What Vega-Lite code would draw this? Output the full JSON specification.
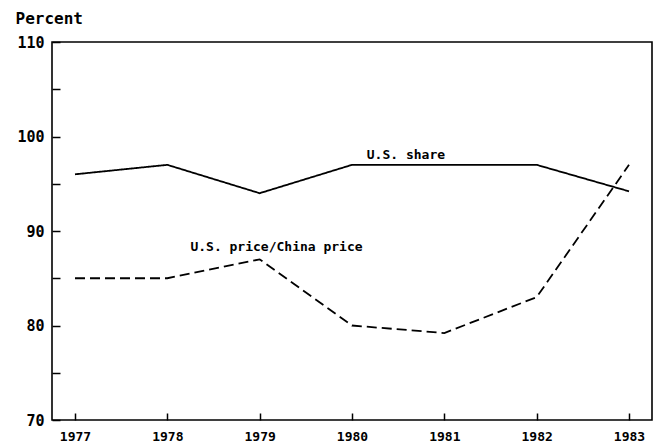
{
  "$schema": "https://vega.github.io/schema/vega-lite/v6.json",
  "autosize": "none",
  "width": 600,
  "height": 378,
  "padding": {"left": 52, "top": 42, "right": 4, "bottom": 26},
  "background": "white",
  "config": {
    "view": {"stroke": "black", "strokeWidth": 1.6},
    "font": "DejaVu Sans Mono",
    "axis": {"grid": false, "domain": false, "labelFont": "DejaVu Sans Mono", "labelFontWeight": "bold", "labelColor": "black", "tickColor": "black", "tickWidth": 1.5}
  },
  "datasets": {
    "series": [
      {"year": 1977, "value": 96, "series": "U.S. share"},
      {"year": 1978, "value": 97, "series": "U.S. share"},
      {"year": 1979, "value": 94, "series": "U.S. share"},
      {"year": 1980, "value": 97, "series": "U.S. share"},
      {"year": 1981, "value": 97, "series": "U.S. share"},
      {"year": 1982, "value": 97, "series": "U.S. share"},
      {"year": 1983, "value": 94.2, "series": "U.S. share"},
      {"year": 1977, "value": 85, "series": "U.S. price/China price"},
      {"year": 1978, "value": 85, "series": "U.S. price/China price"},
      {"year": 1979, "value": 87, "series": "U.S. price/China price"},
      {"year": 1980, "value": 80, "series": "U.S. price/China price"},
      {"year": 1981, "value": 79.2, "series": "U.S. price/China price"},
      {"year": 1982, "value": 83, "series": "U.S. price/China price"},
      {"year": 1983, "value": 97, "series": "U.S. price/China price"}
    ],
    "labels": [
      {"year": 1980.16, "value": 98.0, "label": "U.S. share"},
      {"year": 1978.25, "value": 88.3, "label": "U.S. price/China price"}
    ]
  },
  "layer": [
    {
      "data": {"name": "series"},
      "mark": {"type": "line", "color": "black", "strokeWidth": 1.8},
      "encoding": {
        "x": {"field": "year", "type": "quantitative", "scale": {"domain": [1976.751, 1983.249], "nice": false, "zero": false},
              "axis": {"values": [1977, 1978, 1979, 1980, 1981, 1982, 1983], "format": "d", "title": null, "tickSize": -7, "labelPadding": 17, "labelFontSize": 13}},
        "y": {"field": "value", "type": "quantitative", "scale": {"domain": [70, 110], "nice": false, "zero": false},
              "axis": {"values": [70, 75, 80, 85, 90, 95, 100, 105, 110], "labelExpr": "datum.value % 10 == 0 ? datum.label : ''", "tickSize": -8, "labelPadding": 16, "labelFontSize": 15,
                       "encode": {"ticks": {"update": {"x2": {"signal": "datum.value % 10 == 0 ? 8 : 4"}}}},
                       "title": "Percent", "titleAngle": 0, "titleX": -37, "titleY": -24, "titleAlign": "left", "titleBaseline": "middle", "titleFont": "DejaVu Sans Mono", "titleFontWeight": "bold", "titleFontSize": 16, "titleColor": "black"}},
        "strokeDash": {"field": "series", "type": "nominal", "scale": {"domain": ["U.S. share", "U.S. price/China price"], "range": [[1, 0], [10, 5]]}, "legend": null}
      }
    },
    {
      "data": {"name": "labels"},
      "mark": {"type": "text", "align": "left", "baseline": "middle", "font": "DejaVu Sans Mono", "fontWeight": "bold", "fontSize": 13, "color": "black"},
      "encoding": {
        "x": {"field": "year", "type": "quantitative"},
        "y": {"field": "value", "type": "quantitative"},
        "text": {"field": "label"}
      }
    }
  ]
}
